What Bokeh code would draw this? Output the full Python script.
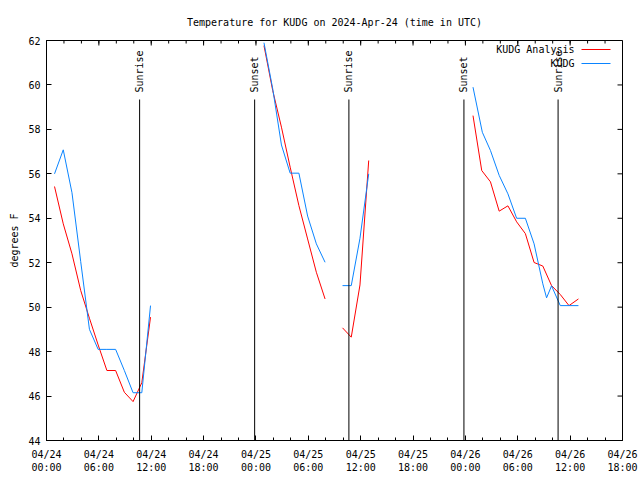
import math
from bokeh.plotting import figure
from bokeh.models import FixedTicker, Range1d, Label, BoxAnnotation, ColumnDataSource, Title
from bokeh.core.properties import value
from bokeh.embed import file_html
from bokeh.resources import INLINE

FONT = "DejaVu Sans Mono"
RED = "#ff0000"
BLUE = "#0a84ff"

# ---------------- data (hours since 2024-04-24 00:00 UTC) ----------------
obs_t1 = [0.92, 1.92, 2.92, 3.92, 4.92, 5.92, 6.92, 7.92, 8.92, 9.92, 10.92, 11.92]
obs_v1 = [56.0, 57.08, 55.15, 52.05, 49.0, 48.1, 48.1, 48.1, 47.15, 46.15, 46.15, 50.07]
obs_t2 = [24.92, 25.92, 26.92, 27.92, 28.92, 29.92, 30.92, 31.92]
obs_v2 = [61.9, 59.83, 57.3, 56.03, 56.03, 54.1, 52.85, 52.02]
obs_t3 = [33.92, 34.92, 35.92, 36.92]
obs_v3 = [50.97, 50.97, 53.1, 56.0]
obs_t4 = [48.87, 49.94, 50.87, 51.87, 52.87, 53.87, 54.87, 55.87, 56.87, 57.3, 57.87, 58.87, 59.87, 60.95]
obs_v4 = [59.9, 57.87, 57.05, 55.93, 55.1, 54.0, 54.0, 52.85, 51.05, 50.42, 50.96, 50.07, 50.07, 50.07]

ana_t1 = [0.92, 1.92, 2.92, 3.92, 4.92, 5.92, 6.92, 7.92, 8.92, 9.92, 10.92, 11.92]
ana_v1 = [55.43, 53.75, 52.4, 50.75, 49.5, 48.3, 47.15, 47.15, 46.17, 45.75, 46.6, 49.55]
ana_t2 = [24.92, 25.92, 26.92, 27.92, 28.92, 29.92, 30.92, 31.92]
ana_v2 = [61.77, 59.75, 58.1, 56.3, 54.57, 53.07, 51.57, 50.37]
ana_t3 = [33.92, 34.92, 35.92, 36.92]
ana_v3 = [49.07, 48.65, 51.0, 56.6]
ana_t4 = [48.87, 49.87, 50.87, 51.87, 52.87, 53.87, 54.87, 55.87, 56.87, 57.87, 58.87, 59.87, 60.95]
ana_v4 = [58.62, 56.15, 55.64, 54.32, 54.56, 53.84, 53.31, 52.01, 51.85, 50.97, 50.57, 50.07, 50.37]

event_t = [10.67, 23.85, 34.65, 47.83, 58.62]
event_names = ["Sunrise", "Sunset", "Sunrise", "Sunset", "Sunrise"]

tick_hours = [0, 6, 12, 18, 24, 30, 36, 42, 48, 54, 60, 66]
minor_hours = list(range(0, 67, 2))
tick_labels = ["04/24\n00:00", "04/24\n06:00", "04/24\n12:00", "04/24\n18:00",
               "04/25\n00:00", "04/25\n06:00", "04/25\n12:00", "04/25\n18:00",
               "04/26\n00:00", "04/26\n06:00", "04/26\n12:00", "04/26\n18:00"]
y_ticks = [44, 46, 48, 50, 52, 54, 56, 58, 60, 62]

title_text = "Temperature for KUDG on 2024-Apr-24 (time in UTC)"
y_label = "degrees F"
series_names = ["KUDG Analysis", "KUDG"]

# ---------------- figure ----------------
X0, X1, Y0, Y1 = 0, 66, 44, 62
FW, FH = 576, 400
p = figure(frame_width=FW, frame_height=FH, output_backend="svg", toolbar_location=None,
           x_range=Range1d(X0, X1), y_range=Range1d(Y0, Y1),
           min_border_left=46, min_border_right=16, min_border_top=40, min_border_bottom=36,
           title=title_text)
p.background_fill_color = "white"
p.border_fill_color = "white"
p.grid.visible = False
p.outline_line_color = "black"
p.outline_line_width = 1
p.outline_line_alpha = 1

p.title.align = "center"
p.title.text_font = FONT
p.title.text_font_size = "10px"
p.title.text_font_style = "normal"
p.title.text_color = "black"
p.title.standoff = 26

ylab = Title(text=y_label, align="center", text_font=FONT, text_font_size="10px",
             text_font_style="normal", text_color="black", standoff=12)
p.add_layout(ylab, "left")

xt = FixedTicker(ticks=tick_hours, minor_ticks=minor_hours)
yt = FixedTicker(ticks=y_ticks, minor_ticks=[])

for ax in (p.xaxis[0], p.yaxis[0]):
    ax.axis_line_color = "black"
    ax.major_tick_in = 5
    ax.major_tick_out = 0
    ax.minor_tick_in = 3
    ax.minor_tick_out = 0
    ax.major_tick_line_color = "black"
    ax.minor_tick_line_color = "black"
    ax.major_label_text_font = FONT
    ax.major_label_text_font_size = "10px"
    ax.major_label_text_color = "black"

xa = p.xaxis[0]
xa.ticker = xt
xa.major_label_overrides = {h: l for h, l in zip(tick_hours, tick_labels)}
xa.major_label_standoff = 8

ya = p.yaxis[0]
ya.ticker = yt
ya.major_label_standoff = 6

# mirrored ticks on top and right edges (gnuplot style)
px_y = (Y1 - Y0) / FH
px_x = (X1 - X0) / FW
p.segment(x0=tick_hours, y0=[Y1] * len(tick_hours), x1=tick_hours,
          y1=[Y1 - 5 * px_y] * len(tick_hours), line_color="black", line_width=1)
p.segment(x0=minor_hours, y0=[Y1] * len(minor_hours), x1=minor_hours,
          y1=[Y1 - 3 * px_y] * len(minor_hours), line_color="black", line_width=1)
p.segment(x0=[X1] * len(y_ticks), y0=y_ticks, x1=[X1 - 5 * px_x] * len(y_ticks),
          y1=y_ticks, line_color="black", line_width=1)

# ---------------- series ----------------
for t, v in [(ana_t1, ana_v1), (ana_t2, ana_v2), (ana_t3, ana_v3), (ana_t4, ana_v4)]:
    p.line(t, v, line_color=RED, line_width=1)
for t, v in [(obs_t1, obs_v1), (obs_t2, obs_v2), (obs_t3, obs_v3), (obs_t4, obs_v4)]:
    p.line(t, v, line_color=BLUE, line_width=1)

# ---------------- sunrise / sunset markers ----------------
LINE_TOP = Y1 - 59 * px_y
LABEL_Y = Y1 - 52 * px_y
ev = ColumnDataSource(dict(t=event_t, name=event_names,
                           y0=[Y0] * len(event_t), y1=[LINE_TOP] * len(event_t),
                           ly=[LABEL_Y] * len(event_t)))
p.segment(x0="t", y0="y0", x1="t", y1="y1", source=ev, line_color="black", line_width=1)
p.text(x="t", y="ly", text="name", source=ev, angle=math.pi / 2,
       text_align="left", text_baseline="middle",
       text_font=value(FONT), text_font_size="10px", text_color="black")

# ---------------- legend (text left, sample line right) ----------------
for i, (name, col) in enumerate(zip(series_names, [RED, BLUE])):
    yy = 391 - 14 * i
    p.add_layout(Label(x=528, y=yy, x_units="screen", y_units="screen", text=name,
                       text_align="right", text_baseline="middle",
                       text_font=FONT, text_font_size="10px", text_color="black"))
    p.add_layout(BoxAnnotation(left=535, right=564, bottom=yy - 0.5, top=yy + 0.5,
                               left_units="screen", right_units="screen",
                               bottom_units="screen", top_units="screen",
                               fill_color=col, fill_alpha=1, line_alpha=0))

open("out.html", "w").write(file_html(p, INLINE))
